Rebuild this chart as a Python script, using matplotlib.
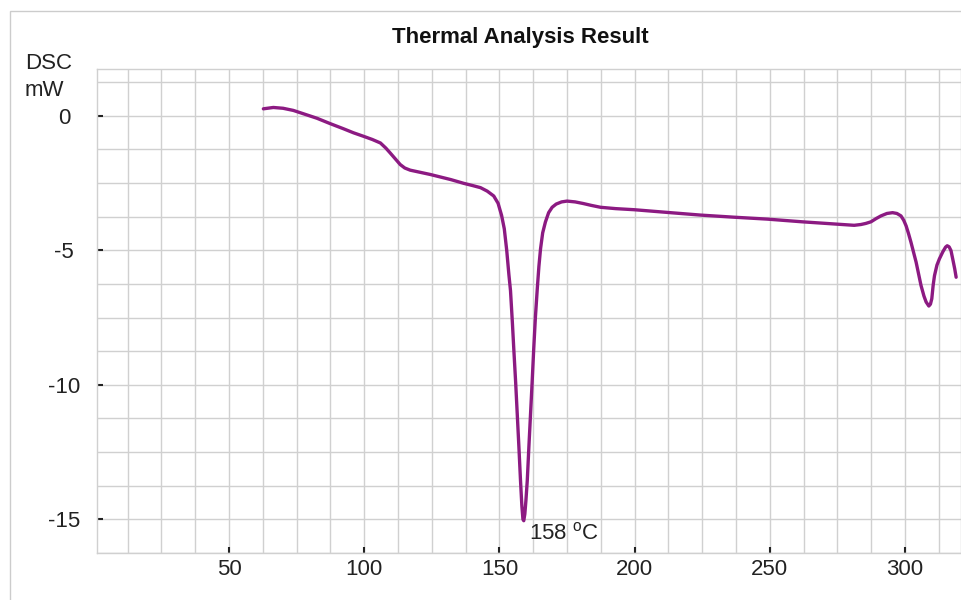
import numpy as np
import matplotlib
matplotlib.use("Agg")
import matplotlib.pyplot as plt
from matplotlib.patches import Rectangle

plt.rcParams['font.family'] = ['Liberation Sans', 'DejaVu Sans']
plt.rcParams['mathtext.fontset'] = 'custom'
plt.rcParams['mathtext.rm'] = 'Liberation Sans'

temperature = [62.7, 66.4, 70, 73.8, 78, 82.5, 87.4, 92.3, 96, 99.7, 103, 106, 108, 109.6,
               111.5, 113.3, 115, 117, 120.7, 124.4, 128, 132, 136.8, 140, 143, 145.5, 147.9,
               149.5, 150.8, 151.8, 152.7, 153.5, 154.1, 154.8, 155.3, 156, 156.6, 157.2,
               157.8, 158.3, 158.7, 159.0, 159.4, 159.8, 160.3, 160.9, 161.5, 162.1, 162.7,
               163.3, 164.0, 164.6, 165.2, 166, 167, 168.2, 169.5, 171, 173, 175, 178, 181,
               184, 187.4, 193, 199.8, 212, 224.4, 237, 249.1, 262, 273.8, 281.2, 283.7,
               285.5, 287.4, 289.3, 291.1, 293.3, 295.4, 297, 298.5, 299.5, 300.4, 301.3,
               302.2, 304.1, 305.9, 307, 307.8, 308.8, 309.4, 309.9, 310.4, 310.9, 311.8,
               312.7, 314, 315, 315.6, 316.3, 317, 317.8, 318.4, 318.9]
dsc = [0.26, 0.31, 0.28, 0.2, 0.06, -0.09, -0.29, -0.48, -0.63, -0.76, -0.88, -1.01, -1.2, -1.38,
       -1.6, -1.81, -1.94, -2.02, -2.1, -2.18, -2.27, -2.37, -2.51, -2.59, -2.67, -2.8, -2.98,
       -3.25, -3.7, -4.2, -5.0, -5.9, -6.5, -7.7, -8.64, -9.9, -11.1, -12.3,
       -13.56, -14.5, -15.0, -15.05, -14.8, -14.3, -13.56, -12.3, -11.1, -9.9, -8.64,
       -7.5, -6.43, -5.6, -4.95, -4.35, -3.95, -3.6, -3.4, -3.28, -3.2, -3.17, -3.2, -3.26,
       -3.33, -3.4, -3.45, -3.49, -3.59, -3.69, -3.77, -3.84, -3.94, -4.02, -4.07, -4.04,
       -4.0, -3.94, -3.82, -3.72, -3.63, -3.6, -3.63, -3.72, -3.88, -4.09, -4.38,
       -4.7, -5.44, -6.3, -6.7, -6.92, -7.07, -7.0, -6.8, -6.3, -5.94, -5.55,
       -5.32, -5.05, -4.88, -4.83, -4.87, -5.01, -5.4, -5.7, -6.0]

x_ticks = [50, 100, 150, 200, 250, 300]
y_ticks = [0, -5, -10, -15]
peak_label_temp = 158

title = "Thermal Analysis Result"
line_color = '#8c1a82'
grid_color = '#d0d0d0'
text_color = '#222222'

fig = plt.figure(figsize=(9.62, 6.0), dpi=100)
# outer frame
fig.patches.append(Rectangle((10/962, -0.01), 1.0, 1 - 11/600 + 0.01, transform=fig.transFigure,
                             fill=False, edgecolor='#cccccc', linewidth=1.0))

ax = fig.add_axes([97/962, 1 - 553/600, (961 - 97)/962, (553 - 69)/600])
ax.plot(temperature, dsc, color=line_color, linewidth=2.4, solid_capstyle='round',
        solid_joinstyle='round')

ax.set_xlim(1.18, 320.7)
ax.set_ylim(-16.15, 1.74)
ax.set_xticks(x_ticks)
ax.set_yticks(y_ticks)
ax.set_xticklabels([str(t) for t in x_ticks])
ax.set_yticklabels([str(t) for t in y_ticks], ha='center')
ax.set_xticks(np.arange(12.5, 320.7, 12.5), minor=True)
ax.set_yticks(np.arange(-16.25, 1.74, 1.25), minor=True)
ax.grid(True, which='both', color=grid_color, linewidth=1.0)
ax.set_axisbelow(True)
ax.tick_params(which='major', direction='in', length=4, width=1.5, color=text_color,
               labelsize=16, labelcolor=text_color)
ax.tick_params(axis='x', which='major', pad=4.5)
ax.tick_params(axis='y', which='major', pad=23.5)
ax.tick_params(which='minor', length=0)
for s in ax.spines.values():
    s.set_color(grid_color)
    s.set_linewidth(1.0)

fig.text(520.5/962, 1 - 38/600, title, ha='center', va='center', fontsize=16,
         fontweight='bold', color='#111111')
fig.text(25/962, 1 - 69/600, "DSC", ha='left', va='baseline', fontsize=16, color=text_color)
fig.text(25/962, 1 - 96/600, "mW", ha='left', va='baseline', fontsize=16, color=text_color)

ax.text(160.9, -15.73, f"{peak_label_temp} " + r"$^{\mathrm{o}}$C", ha='left', va='baseline',
        fontsize=16, color=text_color)

fig.savefig("out.png", dpi=100)
